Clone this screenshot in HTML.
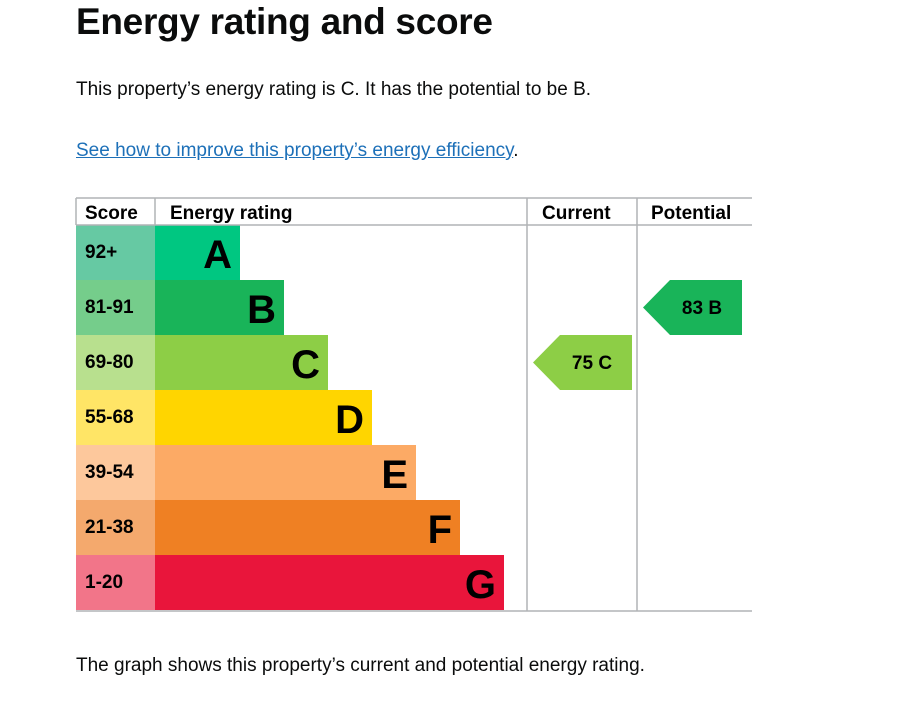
<!DOCTYPE html>
<html><head><meta charset="utf-8"><style>
body{margin:0;width:920px;height:718px;background:#fff;overflow:hidden;font-family:"Liberation Sans",Arial,sans-serif;color:#0b0c0c;position:relative}
h1{position:absolute;left:76px;top:0;margin:0;font-size:37px;font-weight:bold;line-height:44px;letter-spacing:-0.3px}
p{position:absolute;left:76px;margin:0;font-size:19px;line-height:24px}
a{color:#1d70b8;text-decoration:underline}
svg{position:absolute;left:0;top:0}
</style></head><body>
<h1>Energy rating and score</h1>
<p style="top:78px">This property’s energy rating is C. It has the potential to be B.</p>
<p style="top:139px"><a>See how to improve this property’s energy efficiency</a>.</p>
<svg id="chart" width="920" height="718"></svg>
<p style="top:654px">The graph shows this property’s current and potential energy rating.</p>
<script>
const bands=["A","B","C","D","E","F","G"];
const ranges=["92+","81-91","69-80","55-68","39-54","21-38","1-20"];
const minScores=[92,81,69,55,39,21,1];
const barColors=["#00c781","#19b459","#8dce46","#ffd500","#fcaa65","#ef8023","#e9153b"];
const scoreColors=["#66c9a3","#75cd8b","#b8e08e","#ffe566","#fdc89c","#f4a96d","#f27589"];
const currentScore=75, potentialScore=83;
const svg=document.getElementById('chart');
const NS="http://www.w3.org/2000/svg";
function mk(t,a,txt){const e=document.createElementNS(NS,t);for(const k in a)e.setAttribute(k,a[k]);if(txt!=null)e.textContent=txt;svg.appendChild(e);return e;}
const top0=225,rowH=55,x0=155,barW0=85,step=44;
const rowY=i=>top0+i*rowH;
function bandOf(s){for(let i=0;i<minScores.length;i++)if(s>=minScores[i])return i;return 6;}
bands.forEach((b,i)=>{
 let r=mk('rect',{x:76,y:rowY(i),width:79,height:rowH,fill:scoreColors[i]});
 
 let t=mk('text',{x:85,y:rowY(i)+33,'font-size':19,'font-weight':'bold'},ranges[i]);
 
 const w=barW0+i*step;
 let bar=mk('rect',{x:x0,y:rowY(i),width:w,height:rowH,fill:barColors[i]});
 
 let l=mk('text',{x:x0+w-8,y:rowY(i)+43,'font-size':40,'font-weight':'bold','text-anchor':'end'},b);
 
});
const g="#b1b4b6";
[[76,198,752,198],[76,225,752,225],[76,611,752,611],[76,198,76,225],[155,198,155,225],[527,198,527,611],[637,198,637,611]].forEach(c=>{
 let ln=mk('line',{x1:c[0],y1:c[1],x2:c[2],y2:c[3],stroke:g,'stroke-width':1.5});
 
});
[["Score",85],["Energy rating",170],["Current",542],["Potential",651]].forEach(h=>{
 let t=mk('text',{x:h[1],y:219,'font-size':19,'font-weight':'bold'},h[0]);
 
});
function arrow(score,x,name){
 const i=bandOf(score),y=rowY(i),h=rowH;
 let p=mk('polygon',{points:`${x},${y+h/2} ${x+27},${y} ${x+99},${y} ${x+99},${y+h} ${x+27},${y+h}`,fill:barColors[i]});
 
 let t=mk('text',{x:x+59,y:y+34,'font-size':19,'font-weight':'bold','text-anchor':'middle','xml:space':'preserve'},score+'  '+bands[i]);
 
}
arrow(currentScore,533,'current');
arrow(potentialScore,643,'potential');
</script>
</body></html>
